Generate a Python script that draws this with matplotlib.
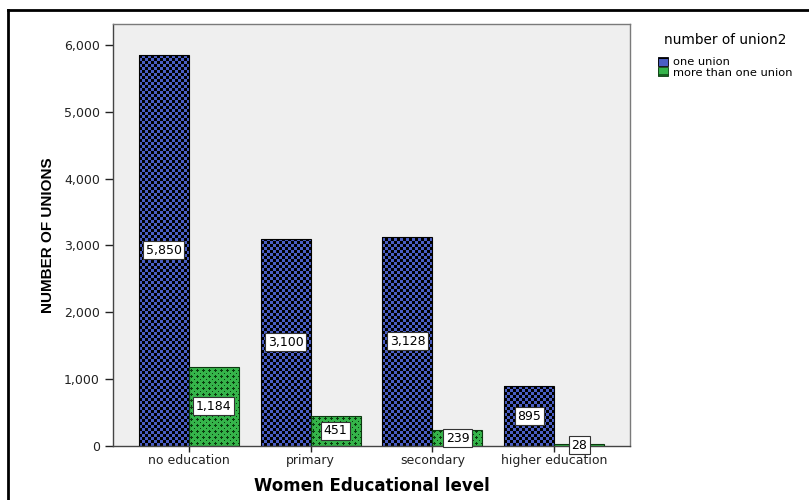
import numpy as np
import matplotlib.pyplot as plt
from matplotlib.lines import Line2D
from matplotlib.patches import Patch
from matplotlib.colors import to_rgb

plt.rcParams['font.family'] = ['DejaVu Sans']
plt.rcParams['hatch.linewidth'] = 1.0

# data
levels = ['no education', 'primary', 'secondary', 'higher education']
one_union = [5850, 3100, 3128, 895]
more_union = [1184, 451, 239, 28]
series_names = ['one union', 'more than one union']

blue = '#4a5ec4'
green = '#35b44a'

fig = plt.figure(figsize=(8.09, 5.0), dpi=100)
ax = fig.add_axes([0.1397, 0.108, 0.639, 0.844])
ax.set_facecolor('#efefef')

x = np.arange(len(levels))
w = 0.41
b1 = ax.bar(x - w / 2, one_union, w, color='none', edgecolor='black', linewidth=0.8, zorder=3)
b2 = ax.bar(x + w / 2, more_union, w, color='none', edgecolor='#0c3a10', linewidth=0.8, zorder=3)

ax.set_xlim(-0.62, 3.62)
ax.set_ylim(0, 6313)

# fill patterns (checkerboard for blue, small crosses for green)
k = np.array(to_rgb('black'))
bl = np.array(to_rgb(blue))
gr = np.array(to_rgb(green))
dg = np.array(to_rgb('#0a3a0e'))
ii, jj = np.indices((6, 6))
checker = np.where((((ii // 3) + (jj // 3)) % 2 == 0)[..., None], bl, k)
plus = ((ii == 2) & (jj >= 1) & (jj <= 3)) | ((jj == 2) & (ii >= 1) & (ii <= 3)) | ((ii == 5) & (jj == 5))
crosses = np.where(plus[..., None], dg, gr)


def fill_texture(rect, tile):
    x0, y0 = rect.get_x(), rect.get_y()
    x1, y1 = x0 + rect.get_width(), y0 + rect.get_height()
    (px0, py0), (px1, py1) = ax.transData.transform([(x0, y0), (x1, y1)])
    nx = max(1, int(round(px1 - px0)))
    ny = max(1, int(round(py1 - py0)))
    th, tw = tile.shape[:2]
    img = np.tile(tile, (ny // th + 1, nx // tw + 1, 1))[:ny, :nx]
    im = ax.imshow(img, extent=(x0, x1, y0, y1), origin='lower', aspect='auto',
                   interpolation='nearest', zorder=2)
    im.set_clip_path(rect)


for rect in b1.patches:
    fill_texture(rect, checker)
for rect in b2.patches:
    fill_texture(rect, crosses)
ax.set_xlim(-0.62, 3.62)
ax.set_ylim(0, 6313)

# value labels in the middle of each bar
box = dict(boxstyle='square,pad=0.2', facecolor='white', edgecolor='#333333', linewidth=0.8)
for bars, vals in [(b1, one_union), (b2, more_union)]:
    for rect, v in zip(bars, vals):
        ax.text(rect.get_x() + rect.get_width() / 2, v / 2, '{:,}'.format(v),
                ha='center', va='center', fontsize=9, bbox=box, zorder=4)

ax.set_yticks([0, 1000, 2000, 3000, 4000, 5000, 6000])
ax.set_yticklabels(['{:,}'.format(t) for t in ax.get_yticks()])
ax.set_xticks(x)
ax.set_xticklabels(levels)
ax.tick_params(axis='both', labelsize=9, colors='#222222', length=6, width=1)
ax.tick_params(axis='x', length=4, pad=2)
for s in ax.spines.values():
    s.set_color('#7a7a7a')
    s.set_linewidth(1)
ax.spines['left'].set_color('#444444')
ax.spines['bottom'].set_color('#444444')

ax.set_ylabel('NUMBER OF UNIONS', fontsize=11, fontweight='bold', labelpad=6,
              family='Liberation Sans')
ax.set_xlabel('Women Educational level', fontsize=12, fontweight='bold', labelpad=7)

# legend at right
handles = [Patch(facecolor=blue, edgecolor='black', hatch='+', linewidth=0.6),
           Patch(facecolor=green, edgecolor='#0a3a0e', hatch='+', linewidth=0.6)]
leg = fig.legend(handles=handles, labels=series_names, loc='upper left',
                 bbox_to_anchor=(0.806, 0.945), frameon=False, fontsize=8.2,
                 title='number of union2', title_fontsize=9.8,
                 handlelength=0.9, handleheight=0.8, handletextpad=0.4,
                 labelspacing=0.0, borderpad=0)
leg._legend_box.align = 'center'
leg._legend_box.sep = 7

# outer frame lines (left and top)
fig.add_artist(Line2D([0.0105, 0.0105], [0, 0.98], transform=fig.transFigure, color='black', linewidth=2))
fig.add_artist(Line2D([0.0105, 1.0], [0.98, 0.98], transform=fig.transFigure, color='black', linewidth=2))

fig.savefig('out.png', dpi=100)
